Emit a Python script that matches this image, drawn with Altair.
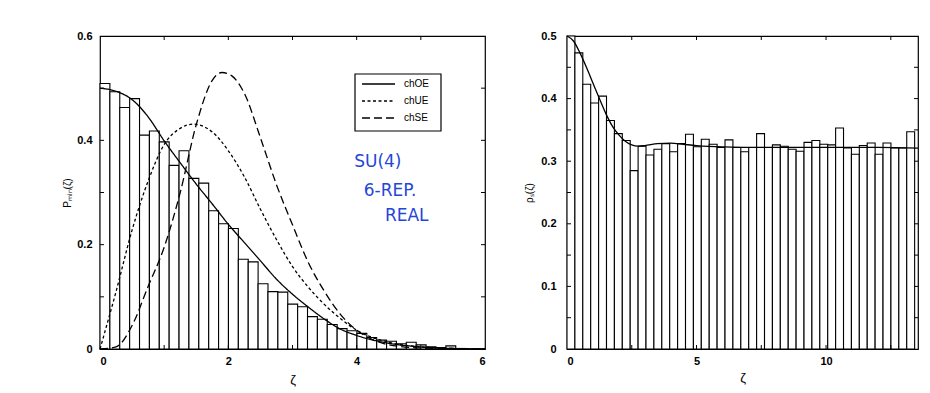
import altair as alt
import pandas as pd

# ---------------- left panel: minimal level distance ----------------
PMIN_BIN = 0.154
pmin_heights = [0.509, 0.493, 0.463, 0.480, 0.410, 0.418, 0.397, 0.352, 0.380, 0.327,
                0.318, 0.265, 0.240, 0.231, 0.172, 0.167, 0.125, 0.110, 0.109, 0.086,
                0.081, 0.062, 0.057, 0.047, 0.039, 0.035, 0.030, 0.022, 0.017, 0.015,
                0.010, 0.013, 0.008, 0.004, 0.003, 0.006, 0.001, 0.000, 0.000]

oe_z = [0, 0.25, 0.5, 0.75, 1.0, 1.25, 1.5, 1.75, 2.0, 2.25, 2.5, 2.75, 3.0, 3.25, 3.5,
        3.75, 4.0, 4.5, 5.0, 5.5, 6.0]
oe_p = [0.500, 0.494, 0.478, 0.445, 0.399, 0.357, 0.316, 0.278, 0.239, 0.204, 0.169,
        0.134, 0.105, 0.080, 0.057, 0.038, 0.026, 0.011, 0.004, 0.001, 0.000]

ue_z = [0, 0.25, 0.5, 0.75, 1.0, 1.25, 1.45, 1.75, 2.0, 2.25, 2.5, 2.75, 3.0, 3.25,
        3.5, 3.75, 4.0, 4.5, 5.0, 5.5, 6.0]
ue_p = [0.000, 0.110, 0.228, 0.322, 0.392, 0.423, 0.431, 0.416, 0.380, 0.330, 0.268,
        0.210, 0.158, 0.118, 0.085, 0.058, 0.036, 0.013, 0.004, 0.001, 0.000]

se_z = [0, 0.25, 0.5, 0.75, 1.0, 1.25, 1.5, 1.75, 1.9, 2.05, 2.25, 2.5, 2.75, 3.0,
        3.25, 3.5, 3.75, 4.0, 4.25, 4.5, 5.0, 5.5, 6.0]
se_p = [0.000, 0.004, 0.045, 0.120, 0.195, 0.300, 0.430, 0.515, 0.530, 0.524, 0.490,
        0.405, 0.315, 0.238, 0.165, 0.110, 0.066, 0.036, 0.018, 0.008, 0.002, 0.001, 0.000]

series_names = ["chOE", "chUE", "chSE"]
note_lines = ["SU(4)", "6-REP.", "REAL"]
note_z = [4.33, 4.52, 4.78]
note_p = [0.358, 0.302, 0.255]

# ---------------- right panel: level density ----------------
RHO_BIN = 0.305
rho_heights = [0.500, 0.473, 0.423, 0.393, 0.404, 0.365, 0.344, 0.333, 0.285, 0.324,
               0.310, 0.319, 0.328, 0.315, 0.328, 0.343, 0.323, 0.335, 0.327, 0.322,
               0.334, 0.322, 0.315, 0.322, 0.344, 0.322, 0.326, 0.324, 0.319, 0.316,
               0.330, 0.333, 0.327, 0.326, 0.353, 0.321, 0.311, 0.325, 0.329, 0.311,
               0.329, 0.321, 0.321, 0.347]
rho_z = [0, 0.25, 0.5, 0.75, 1.0, 1.25, 1.5, 1.75, 2.0, 2.25, 2.5, 2.75, 3.0, 3.5,
         4.0, 4.5, 5.0, 6.0, 8.0, 10.0, 12.0, 13.55]
rho_v = [0.500, 0.492, 0.473, 0.450, 0.425, 0.400, 0.376, 0.356, 0.342, 0.332, 0.326,
         0.324, 0.325, 0.328, 0.329, 0.327, 0.325, 0.323, 0.322, 0.322, 0.322, 0.321]

W_L, W_R, H = 385, 351, 313
TICK = 4
FONT = "Liberation Sans"
DASHES = {"chOE": [1, 0], "chUE": [3, 2.5], "chSE": [8, 4]}

pmin_bars = pd.DataFrame({
    "x0": [i * PMIN_BIN for i in range(len(pmin_heights))],
    "x1": [(i + 1) * PMIN_BIN for i in range(len(pmin_heights))],
    "h": pmin_heights,
})
curves = pd.concat([
    pd.DataFrame({"z": oe_z, "p": oe_p, "s": "chOE"}),
    pd.DataFrame({"z": ue_z, "p": ue_p, "s": "chUE"}),
    pd.DataFrame({"z": se_z, "p": se_p, "s": "chSE"}),
])
notes = pd.DataFrame({"z": note_z, "p": note_p, "t": note_lines})

rho_bars = pd.DataFrame({
    "x0": [i * RHO_BIN for i in range(len(rho_heights))],
    "x1": [(i + 1) * RHO_BIN for i in range(len(rho_heights))],
    "h": rho_heights,
})
rho_curve = pd.DataFrame({"z": rho_z, "v": rho_v})

label_expr = "datum.value == 0 ? '0' : format(datum.value, '.1f')"

# shared scales and axes (the same objects go into every layer)
xl = alt.Scale(domain=[0, 6], nice=False, zero=False)
yl = alt.Scale(domain=[0, 0.6], nice=False, zero=False)
ax_xl = alt.Axis(values=[0, 2, 4, 6], title="ζ", labelPadding=6, titlePadding=7, titleFontSize=13)
ax_yl = alt.Axis(values=[0, 0.2, 0.4, 0.6], labelExpr=label_expr, title="Pₘᵢₙ(ζ)",
                 labelPadding=8, titlePadding=4, titleFontSize=10)

xr = alt.Scale(domain=[0, 13.55], nice=False, zero=False)
yr = alt.Scale(domain=[0, 0.5], nice=False, zero=False)
ax_xr = alt.Axis(values=[0, 5, 10], title="ζ", labelPadding=6, titlePadding=5, titleFontSize=13)
ax_yr = alt.Axis(values=[0, 0.1, 0.2, 0.3, 0.4, 0.5], labelExpr=label_expr, title="ρₛ(ζ)",
                 labelPadding=11, titlePadding=6, titleFontSize=10)


def inward_ticks(xs, ys, xsc, ysc, xax, yax, w):
    """Short tick marks drawn inside the frame on all four sides."""
    xt = pd.DataFrame({"t": xs})
    yt = pd.DataFrame({"t": ys})
    base_x = alt.Chart(xt).mark_rule(color="black", strokeWidth=1)
    base_y = alt.Chart(yt).mark_rule(color="black", strokeWidth=1)
    return [
        base_x.encode(x=alt.X("t:Q", scale=xsc, axis=xax), y=alt.value(H), y2=alt.value(H - TICK)),
        base_x.encode(x=alt.X("t:Q", scale=xsc, axis=xax), y=alt.value(0), y2=alt.value(TICK)),
        base_y.encode(y=alt.Y("t:Q", scale=ysc, axis=yax), x=alt.value(0), x2=alt.value(TICK)),
        base_y.encode(y=alt.Y("t:Q", scale=ysc, axis=yax), x=alt.value(w), x2=alt.value(w - TICK)),
    ]


def legend_box(left, top, width, row_h):
    """Boxed key in the upper right of the left panel: dash sample + series name per row."""
    one = pd.DataFrame({"k": [0]})
    layers = [
        alt.Chart(one).mark_rect(fill="white", stroke="black", strokeWidth=1.2).encode(
            x=alt.value(left), x2=alt.value(left + width),
            y=alt.value(top), y2=alt.value(top + row_h * len(series_names) + 6),
        )
    ]
    for i, name in enumerate(series_names):
        yy = top + 10 + row_h * i
        row = pd.DataFrame({"s": [name]})
        layers.append(
            alt.Chart(row).mark_rule(color="black", strokeWidth=1.3, strokeDash=DASHES[name]).encode(
                x=alt.value(left + 7), x2=alt.value(left + 40), y=alt.value(yy)
            )
        )
        layers.append(
            alt.Chart(row).mark_text(align="left", baseline="middle", fontSize=10, font=FONT,
                                     color="black").encode(
                x=alt.value(left + 49), y=alt.value(yy), text="s:N"
            )
        )
    return layers


# ---------- left panel layers ----------
left_bars = alt.Chart(pmin_bars).mark_bar(
    fill="white", stroke="black", strokeWidth=1.1
).encode(
    x=alt.X("x0:Q", scale=xl, axis=ax_xl),
    x2="x1:Q",
    y=alt.Y("h:Q", scale=yl, axis=ax_yl),
    y2=alt.datum(0),
)

left_curves = alt.Chart(curves).mark_line(
    color="black", strokeWidth=1.3, interpolate="monotone"
).encode(
    x=alt.X("z:Q", scale=xl, axis=ax_xl),
    y=alt.Y("p:Q", scale=yl, axis=ax_yl),
    detail="s:N",
    strokeDash=alt.StrokeDash(
        "s:N",
        scale=alt.Scale(domain=series_names, range=[DASHES[s] for s in series_names]),
        legend=None,
    ),
)

left_notes = alt.Chart(notes).mark_text(
    color="#2446d8", fontSize=17, font="DejaVu Sans", fontWeight="normal"
).encode(
    x=alt.X("z:Q", scale=xl, axis=ax_xl),
    y=alt.Y("p:Q", scale=yl, axis=ax_yl),
    text="t:N",
)

left = alt.layer(
    left_bars, left_curves, left_notes,
    *inward_ticks([1, 2, 3, 4, 5], [0.1, 0.2, 0.3, 0.4, 0.5], xl, yl, ax_xl, ax_yl, W_L),
    *legend_box(255, 38, 86, 17),
).properties(width=W_L, height=H)

# ---------- right panel layers ----------
right_bars = alt.Chart(rho_bars).mark_bar(
    fill="white", stroke="black", strokeWidth=1.1
).encode(
    x=alt.X("x0:Q", scale=xr, axis=ax_xr),
    x2="x1:Q",
    y=alt.Y("h:Q", scale=yr, axis=ax_yr),
    y2=alt.datum(0),
)

right_curve = alt.Chart(rho_curve).mark_line(
    color="black", strokeWidth=1.3, interpolate="monotone"
).encode(
    x=alt.X("z:Q", scale=xr, axis=ax_xr),
    y=alt.Y("v:Q", scale=yr, axis=ax_yr),
)

right = alt.layer(
    right_bars, right_curve,
    *inward_ticks([2.5, 5, 7.5, 10, 12.5],
                  [0.05, 0.1, 0.15, 0.2, 0.25, 0.3, 0.35, 0.4, 0.45],
                  xr, yr, ax_xr, ax_yr, W_R),
).properties(width=W_R, height=H)

chart = alt.hconcat(left, right, spacing=35).properties(
    padding={"left": 62, "top": 29, "right": 0, "bottom": 0},
    background="white",
).configure_view(
    stroke="black", strokeWidth=1.2
).configure_axis(
    labelFont=FONT, labelFontSize=11, labelFontWeight="bold", labelColor="black",
    titleFont=FONT, titleFontWeight="normal", titleColor="black",
    ticks=False, domain=False, grid=False,
)

chart.save("out.html", embed_options={"renderer": "svg", "actions": False})
